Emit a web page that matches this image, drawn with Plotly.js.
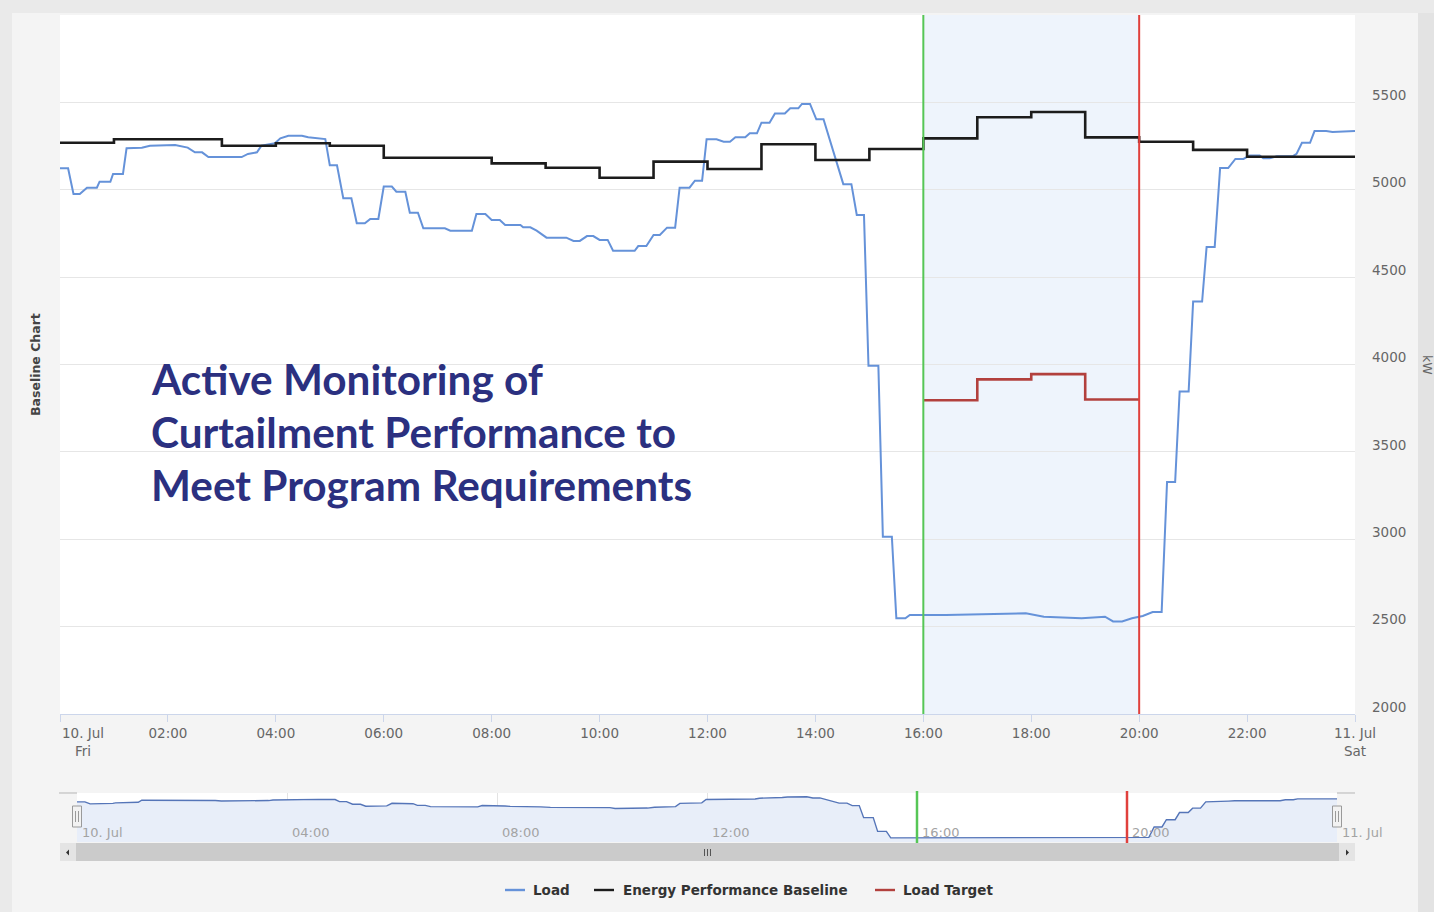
<!DOCTYPE html>
<html>
<head>
<meta charset="utf-8">
<script src="https://cdn.plot.ly/plotly-3.0.1.min.js"></script>
<style>html,body{margin:0;padding:0;background:#f4f4f4;}#chart{width:1434px;height:912px;}</style>
</head>
<body>
<div id="chart"></div>
<script>
// ---------- data ----------
const day = "2015-07-10";
const nextDay = "2015-07-11";

const loadTimes = ["00:00","00:09","00:15","00:22","00:30","00:41","00:44","00:56","00:59","01:10",
  "01:14","01:31","01:40","02:08","02:22","02:30","02:38","02:45","03:22","03:29",
  "03:39","03:44","03:59","04:05","04:14","04:29","04:36","04:51","04:55","05:00",
  "05:08","05:15","05:24","05:30","05:39","05:45","05:54","06:00","06:09","06:14",
  "06:24","06:29","06:38","06:44","07:08","07:14","07:38","07:43","07:53","08:00",
  "08:09","08:15","08:32","08:35","08:43","08:50","09:01","09:23","09:31","09:38",
  "09:46","09:53","10:00","10:09","10:15","10:39","10:43","10:52","11:00","11:07",
  "11:15","11:24","11:29","11:40","11:46","11:54","11:59","12:10","12:18","12:25",
  "12:31","12:42","12:47","12:55","13:00","13:09","13:15","13:26","13:32","13:41",
  "13:45","13:54","14:01","14:09","14:31","14:40","14:46","14:54","14:59","15:10",
  "15:15","15:25","15:30","15:40","15:45","16:25","17:32","17:54","18:14","18:56",
  "19:22","19:31","19:41","19:52","20:04","20:15","20:25","20:31","20:40","20:45",
  "20:55","21:00","21:10","21:15","21:24","21:30","21:39","21:47","21:56","22:03",
  "22:14","22:18","22:25","22:33","22:51","22:55","23:01","23:10","23:15","23:28",
  "23:35","24:00"];
const loadValues = [5123,5123,4976,4976,5012,5012,5046,5046,5090,5090,
  5237,5240,5252,5256,5241,5214,5214,5187,5187,5205,
  5214,5252,5266,5294,5309,5309,5300,5290,5290,5140,
  5140,4951,4951,4808,4808,4833,4833,5018,5018,4989,
  4989,4869,4869,4779,4779,4766,4766,4861,4861,4827,
  4827,4798,4798,4785,4785,4766,4726,4726,4707,4707,
  4735,4735,4713,4713,4651,4651,4678,4678,4741,4741,
  4783,4783,5012,5012,5052,5052,5289,5289,5275,5275,
  5300,5300,5323,5323,5384,5384,5437,5437,5466,5466,
  5491,5491,5403,5403,5032,5032,4856,4856,3993,3993,
  3015,3015,2548,2548,2567,2567,2572,2576,2557,2548,
  2557,2530,2530,2548,2561,2584,2584,3328,3328,3845,
  3845,4360,4360,4673,4673,5124,5124,5176,5176,5196,
  5196,5180,5180,5192,5192,5205,5269,5269,5336,5336,
  5330,5336];

const baselineTimes = ["00:00","01:00","02:00","03:00","04:00","05:00","06:00","07:00","08:00","09:00",
  "10:00","11:00","12:00","13:00","14:00","15:00","16:00","17:00","18:00","19:00",
  "20:00","21:00","22:00","23:00","24:00"];
const baselineValues = [5269,5289,5289,5252,5266,5252,5183,5183,5151,5126,
  5069,5161,5119,5260,5170,5233,5294,5415,5445,5300,
  5275,5228,5189,5189,5189];

const targetTimes = ["16:00","17:00","18:00","19:00","20:00"];
const targetValues = [3795,3915,3945,3800,3800];

const eventStart = "16:00";
const eventEnd = "20:00";

const mainTickTimes = ["00:00","02:00","04:00","06:00","08:00","10:00","12:00","14:00","16:00","18:00","20:00","22:00","24:00"];
const mainTickLabels = ["","02:00","04:00","06:00","08:00","10:00","12:00","14:00","16:00","18:00","20:00","22:00","11. Jul<br>Sat"];
const firstTickLabel = "10. Jul<br>Fri";
const navTickTimes = ["00:00","04:00","08:00","12:00","16:00","20:00","24:00"];
const navTickLabels = ["10. Jul","04:00","08:00","12:00","16:00","20:00","11. Jul"];
const yTicks = [2000,2500,3000,3500,4000,4500,5000,5500];

const seriesNames = ["Load","Energy Performance Baseline","Load Target"];
const seriesColors = ["#6592d9","#1c1c1c","#b2403d"];
const titleLines = ["Active Monitoring of","Curtailment Performance to","Meet Program Requirements"];

// ---------- helpers ----------
function toDate(hhmm){ return hhmm === "24:00" ? nextDay + " 00:00" : day + " " + hhmm; }
const W = 1434, H = 912;
const px = x => x / W;
const py = y => 1 - y / H;
const FONT = "DejaVu Sans, Verdana, sans-serif";
const loadX = loadTimes.map(toDate);

// ---------- traces ----------
const traces = [
  {x: loadX, y: loadValues, type: "scatter", mode: "lines", name: seriesNames[0],
   line: {color: seriesColors[0], width: 2}, xaxis: "x", yaxis: "y", hoverinfo: "skip"},
  {x: baselineTimes.map(toDate), y: baselineValues, type: "scatter", mode: "lines", name: seriesNames[1],
   line: {color: seriesColors[1], width: 2.6, shape: "hv"}, xaxis: "x", yaxis: "y", hoverinfo: "skip"},
  {x: targetTimes.map(toDate), y: targetValues, type: "scatter", mode: "lines", name: seriesNames[2],
   line: {color: seriesColors[2], width: 2.6, shape: "hv"}, xaxis: "x", yaxis: "y", hoverinfo: "skip"},
  // navigator copy of the load series
  {x: loadX, y: loadValues, type: "scatter", mode: "lines", fill: "tozeroy", fillcolor: "#e8eef9",
   line: {color: "#5575b8", width: 1.4}, xaxis: "x2", yaxis: "y2", showlegend: false, hoverinfo: "skip"}
];

// ---------- shapes ----------
function rect(x0, y0, x1, y1, fill, layer, lineColor){
  return {type: "rect", xref: "paper", yref: "paper", x0: px(x0), x1: px(x1), y0: py(y1), y1: py(y0),
          fillcolor: fill, layer: layer || "above",
          line: lineColor ? {color: lineColor, width: 1} : {width: 0}};
}
function seg(x0, y0, x1, y1, color, width){
  return {type: "line", xref: "paper", yref: "paper", x0: px(x0), x1: px(x1), y0: py(y0), y1: py(y1),
          line: {color: color, width: width || 1}, layer: "above"};
}
function tri(pts, color){
  const p = pts.map((q, i) => (i ? "L" : "M") + px(q[0]) + "," + py(q[1])).join(" ") + " Z";
  return {type: "path", xref: "paper", yref: "paper", path: p, fillcolor: color, line: {width: 0}, layer: "above"};
}

const shapes = [
  // page frame
  rect(0, 0, 12, 912, "#eaeaea", "below"),
  rect(0, 0, 1434, 13, "#eaeaea", "below"),
  rect(1418, 13, 1434, 912, "#e3e3e3", "below"),
  // event window band
  {type: "rect", xref: "x", yref: "y domain", x0: toDate(eventStart), x1: toDate(eventEnd), y0: 0, y1: 1,
   fillcolor: "#eef4fc", line: {width: 0}, layer: "below"},
  // event start / end lines in main plot
  {type: "line", xref: "x", yref: "y domain", x0: toDate(eventStart), x1: toDate(eventStart), y0: 0, y1: 1,
   line: {color: "#56c656", width: 2}, layer: "above"},
  {type: "line", xref: "x", yref: "y domain", x0: toDate(eventEnd), x1: toDate(eventEnd), y0: 0, y1: 1,
   line: {color: "#e0403c", width: 2}, layer: "above"},
  // event lines in navigator
  {type: "line", xref: "x2", yref: "paper", x0: toDate(eventStart), x1: toDate(eventStart), y0: py(843), y1: py(791),
   line: {color: "#56c656", width: 2.5}, layer: "above"},
  {type: "line", xref: "x2", yref: "paper", x0: toDate(eventEnd), x1: toDate(eventEnd), y0: py(843), y1: py(791),
   line: {color: "#e0403c", width: 2.5}, layer: "above"},
  // navigator outline stubs
  seg(59, 793, 77, 793, "#b5b5b5", 1),
  seg(1337, 793, 1355, 793, "#b5b5b5", 1),
  // scrollbar
  rect(60, 843, 1355, 861, "#f0f0f0"),
  rect(76, 843, 1339, 861, "#cbcbcb"),
  rect(60, 843, 76, 861, "#e4e4e4"),
  rect(1339, 843, 1355, 861, "#e4e4e4"),
  tri([[66, 852.5], [69, 849.5], [69, 855.5]], "#333"),
  tri([[1349, 852.5], [1346, 849.5], [1346, 855.5]], "#333"),
  seg(704.5, 849, 704.5, 856, "#555", 1),
  seg(707.5, 849, 707.5, 856, "#555", 1),
  seg(710.5, 849, 710.5, 856, "#555", 1),
  // navigator handles
  rect(72.5, 806, 81.5, 827, "#f2f2f2", "above", "#9a9a9a"),
  seg(75.5, 811, 75.5, 822, "#9a9a9a", 1),
  seg(78.5, 811, 78.5, 822, "#9a9a9a", 1),
  rect(1332.5, 806, 1341.5, 827, "#f2f2f2", "above", "#9a9a9a"),
  seg(1335.5, 811, 1335.5, 822, "#9a9a9a", 1),
  seg(1338.5, 811, 1338.5, 822, "#9a9a9a", 1)
];

// legend (drawn by hand to match the reference spacing)
const legendSymbolX = [505, 594, 875];
const legendTextX = [531, 621, 901];
const legendY = 890;
seriesNames.forEach((n, i) => {
  shapes.push(seg(legendSymbolX[i], legendY, legendSymbolX[i] + 20, legendY, seriesColors[i], 2.4));
});

// ---------- annotations ----------
const titleFont = {family: "Lato, Roboto, sans-serif", size: 42.3, weight: "bold", color: "#2b3080"};
const titleY = [378, 431, 484];
const annotations = titleLines.map((t, i) => ({
  text: t, xref: "paper", yref: "paper", x: px(149), y: py(titleY[i]), xanchor: "left", yanchor: "middle",
  showarrow: false, font: titleFont
}));
seriesNames.forEach((n, i) => {
  annotations.push({text: n, xref: "paper", yref: "paper", x: px(legendTextX[i]), y: py(legendY),
    xanchor: "left", yanchor: "middle", showarrow: false,
    font: {family: FONT, size: 13.5, weight: "bold", color: "#333"}});
});
annotations.push(
  {text: firstTickLabel, xref: "x", yref: "paper", x: toDate("00:00"), y: py(723), xanchor: "left", yanchor: "top",
   align: "center", showarrow: false, font: {family: FONT, size: 13.5, color: "#666"}},
  {text: "Baseline Chart", xref: "paper", yref: "paper", x: px(35), y: py(365), textangle: -90,
   xanchor: "center", yanchor: "middle",
   showarrow: false, font: {family: FONT, size: 12.5, weight: "bold", color: "#444"}},
  {text: "kW", xref: "paper", yref: "paper", x: px(1428), y: py(365), textangle: 90,
   xanchor: "center", yanchor: "middle",
   showarrow: false, font: {family: FONT, size: 12.5, color: "#666"}}
);

// ---------- layout ----------
const layout = {
  width: W, height: H,
  margin: {l: 0, r: 0, t: 0, b: 0},
  paper_bgcolor: "#f4f4f4",
  plot_bgcolor: "#ffffff",
  font: {family: FONT, color: "#666"},
  showlegend: false,
  xaxis: {type: "date", domain: [px(60), px(1355)], range: [toDate("00:00"), toDate("24:00")], anchor: "y",
          showgrid: false, zeroline: false, showline: true, linecolor: "#ccd6eb", linewidth: 1,
          ticks: "outside", ticklen: 7, tickcolor: "#ccd6eb", tickwidth: 1,
          tickmode: "array", tickvals: mainTickTimes.map(toDate), ticktext: mainTickLabels,
          tickfont: {family: FONT, size: 13.5, color: "#666"}, fixedrange: true},
  yaxis: {domain: [py(714), py(15)], range: [2000, 6000], side: "right", anchor: "x",
          tickmode: "array", tickvals: yTicks, showgrid: true, gridcolor: "#e6e6e6", gridwidth: 1,
          zeroline: false, showline: false, ticks: "", ticklabelstandoff: 16, ticklabelshift: -7,
          tickfont: {family: FONT, size: 13.5, color: "#666"}, fixedrange: true},
  xaxis2: {type: "date", domain: [px(77), px(1337)], range: [toDate("00:00"), toDate("24:00")], anchor: "y2",
           showgrid: true, gridcolor: "#e3e3e3", zeroline: false, showline: false, ticks: "",
           tickmode: "array", tickvals: navTickTimes.map(toDate), ticktext: navTickLabels,
           ticklabelposition: "inside right", ticklabeloverflow: "allow",
           ticklabelstandoff: -4, ticklabelshift: 5,
           tickfont: {family: FONT, size: 13, color: "#a3a3a3"}, fixedrange: true},
  yaxis2: {domain: [py(842), py(793)], range: [2253, 5755], anchor: "x2", showgrid: false, zeroline: false,
           showticklabels: false, ticks: "", showline: false, fixedrange: true},
  shapes: shapes,
  annotations: annotations
};

Plotly.newPlot("chart", traces, layout, {displayModeBar: false, staticPlot: true});
</script>
</body>
</html>
